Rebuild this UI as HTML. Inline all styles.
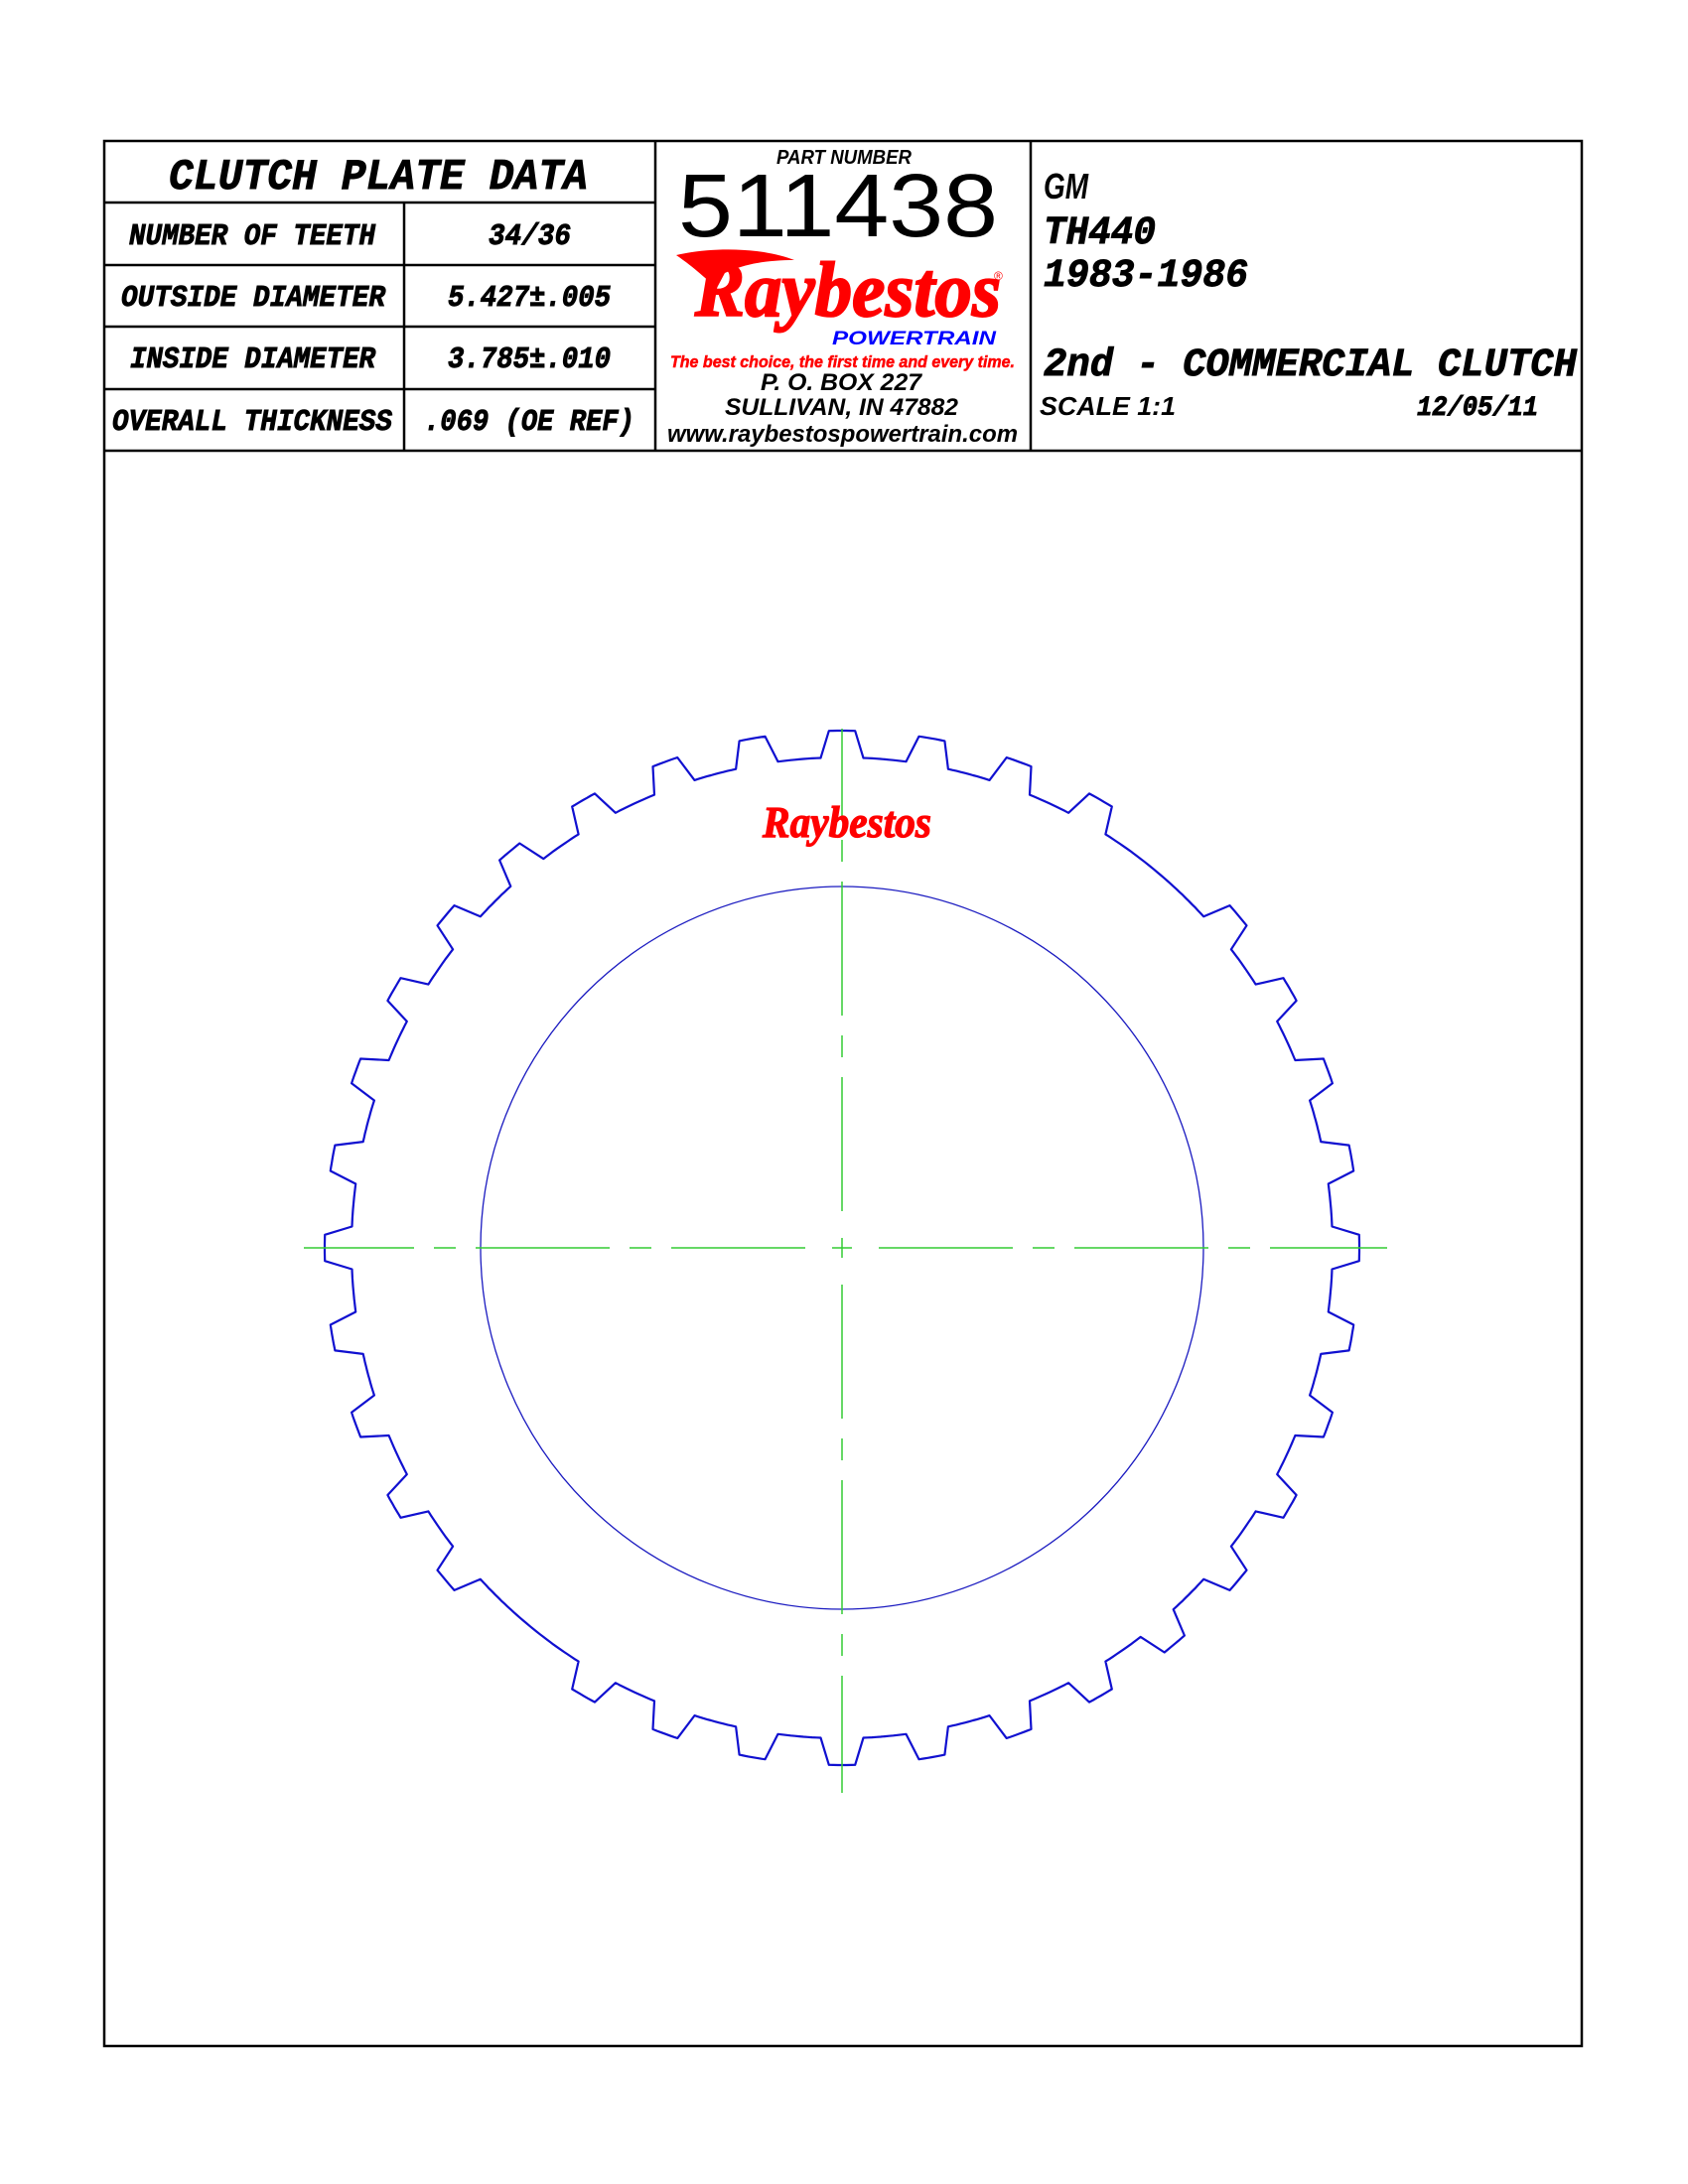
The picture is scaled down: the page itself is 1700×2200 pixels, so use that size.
<!DOCTYPE html>
<html><head><meta charset="utf-8"><style>
html,body{margin:0;padding:0;background:#fff}
svg{display:block}
.m{font-family:"Liberation Mono",monospace;font-weight:bold;font-style:italic;fill:#000;stroke:#000;stroke-width:0.9}
.s{font-family:"Liberation Sans",sans-serif;font-weight:bold;font-style:italic;fill:#000}
</style></head><body>
<svg id="sheet" width="1700" height="2200" viewBox="0 0 1700 2200" xmlns="http://www.w3.org/2000/svg">
<g stroke="#000" stroke-width="2.5" fill="none">
<rect x="105" y="142" width="1488" height="1919"/>
<line x1="105" y1="454" x2="1593" y2="454"/>
<line x1="660" y1="142" x2="660" y2="454"/>
<line x1="1038" y1="142" x2="1038" y2="454"/>
<line x1="105" y1="204" x2="660" y2="204"/>
<line x1="105" y1="267" x2="660" y2="267"/>
<line x1="105" y1="329" x2="660" y2="329"/>
<line x1="105" y1="392" x2="660" y2="392"/>
<line x1="407" y1="204" x2="407" y2="454"/>
</g>
<g>
<text class="m" x="170" y="190" font-size="44" textLength="422" lengthAdjust="spacingAndGlyphs">CLUTCH PLATE DATA</text>
<text class="m" x="130" y="246" font-size="31" textLength="248" lengthAdjust="spacingAndGlyphs">NUMBER OF TEETH</text>
<text class="m" x="122" y="308" font-size="31" textLength="266" lengthAdjust="spacingAndGlyphs">OUTSIDE DIAMETER</text>
<text class="m" x="131" y="370" font-size="31" textLength="247" lengthAdjust="spacingAndGlyphs">INSIDE DIAMETER</text>
<text class="m" x="113" y="433" font-size="31" textLength="282" lengthAdjust="spacingAndGlyphs">OVERALL THICKNESS</text>
<text class="m" x="492" y="246" font-size="31" textLength="83" lengthAdjust="spacingAndGlyphs">34/36</text>
<text class="m" x="451" y="308" font-size="31" textLength="164" lengthAdjust="spacingAndGlyphs">5.427±.005</text>
<text class="m" x="451" y="370" font-size="31" textLength="164" lengthAdjust="spacingAndGlyphs">3.785±.010</text>
<text class="m" x="427" y="433" font-size="31" textLength="212" lengthAdjust="spacingAndGlyphs">.069 (OE REF)</text>
</g>
<g>
<text class="s" x="782" y="165" font-size="20" textLength="136" lengthAdjust="spacingAndGlyphs">PART NUMBER</text>
<text x="683" y="238" font-family="Liberation Sans, sans-serif" font-size="90" textLength="322" lengthAdjust="spacingAndGlyphs">511438</text>
<path fill="#f00" d="M681,257 C720,248 770,250 800,262 C775,262 752,265 730,275 L722,290 C712,282 700,270 681,257 Z"/>
<text x="700" y="318" font-family="Liberation Serif, serif" font-weight="bold" font-style="italic" font-size="78" fill="#f00" stroke="#f00" stroke-width="2" textLength="308" lengthAdjust="spacingAndGlyphs">Raybestos</text>
<text x="1001" y="282" font-family="Liberation Sans, sans-serif" font-size="12" fill="#f00">®</text>
<text x="838" y="347" font-family="Liberation Sans, sans-serif" font-weight="bold" font-style="italic" font-size="19" fill="#00f" textLength="165" lengthAdjust="spacingAndGlyphs">POWERTRAIN</text>
<text x="675" y="370" font-family="Liberation Sans, sans-serif" font-weight="bold" font-style="italic" font-size="17" fill="#f00" stroke="#f00" stroke-width="0.5" textLength="347" lengthAdjust="spacingAndGlyphs">The best choice, the first time and every time.</text>
<text class="s" x="766" y="393" font-size="24" textLength="162" lengthAdjust="spacingAndGlyphs">P. O. BOX 227</text>
<text class="s" x="730" y="418" font-size="24" textLength="235" lengthAdjust="spacingAndGlyphs">SULLIVAN, IN 47882</text>
<text class="s" x="672" y="445" font-size="24" textLength="353" lengthAdjust="spacingAndGlyphs">www.raybestospowertrain.com</text>
</g>
<g>
<text class="s" x="1051" y="200" font-size="36" textLength="45" lengthAdjust="spacingAndGlyphs">GM</text>
<text class="m" x="1051" y="245" font-size="40" textLength="113" lengthAdjust="spacingAndGlyphs">TH440</text>
<text class="m" x="1051" y="288" font-size="40" textLength="206" lengthAdjust="spacingAndGlyphs">1983-1986</text>
<text class="m" x="1051" y="378" font-size="40" textLength="537" lengthAdjust="spacingAndGlyphs">2nd - COMMERCIAL CLUTCH</text>
<text class="s" x="1047" y="418" font-size="26" textLength="137" lengthAdjust="spacingAndGlyphs">SCALE 1:1</text>
<text class="m" x="1427" y="418" font-size="28" textLength="122" lengthAdjust="spacingAndGlyphs">12/05/11</text>
</g>
<g id="plate"></g>
<text x="768" y="843" font-family="Liberation Serif, serif" font-weight="bold" font-style="italic" font-size="44" fill="#f00" stroke="#f00" stroke-width="1.2" textLength="170" lengthAdjust="spacingAndGlyphs">Raybestos</text>
</svg>
<script>
const toothPositionsDeg = [0,10,20,30,40,60,70,80,90,100,110,120,130,140,150,160,170,180,190,200,210,220,240,250,260,270,280,290,300,310,320,330,340,350];
const tipRadius = 521;
const rootRadius = 494;
const innerRadius = 364;
const cx = 848, cy = 1257;
const tipHalf = 1.45, rootHalf = 2.5;
const NS = 'http://www.w3.org/2000/svg';
const g = document.getElementById('plate');
function pt(r, deg){const a=deg*Math.PI/180;return [cx+r*Math.cos(a), cy-r*Math.sin(a)];}
let pts=[];
const teeth=new Set(toothPositionsDeg);
for(let a=0;a<360;a+=10){
  if(teeth.has(a)){
    pts.push(pt(rootRadius,a-rootHalf));
    pts.push(pt(tipRadius,a-tipHalf));
    for(let t=-tipHalf;t<=tipHalf;t+=0.5)pts.push(pt(tipRadius,a+t));
    pts.push(pt(tipRadius,a+tipHalf));
    pts.push(pt(rootRadius,a+rootHalf));
    for(let t=a+rootHalf;t<a+10-rootHalf;t+=0.5)pts.push(pt(rootRadius,t));
  } else {
    for(let t=a-rootHalf;t<a+10-rootHalf;t+=0.5)pts.push(pt(rootRadius,t));
  }
}
const outer=document.createElementNS(NS,'path');


outer.setAttribute('d','M'+pts.map(p=>p[0].toFixed(1)+','+p[1].toFixed(1)).join(' L')+' Z');
outer.setAttribute('fill','none');outer.setAttribute('stroke','#1010d0');outer.setAttribute('stroke-width','2.2');outer.setAttribute('stroke-linejoin','round');
g.appendChild(outer);
const inner=document.createElementNS(NS,'circle');


inner.setAttribute('cx',cx);inner.setAttribute('cy',cy);inner.setAttribute('r',innerRadius);
inner.setAttribute('fill','none');inner.setAttribute('stroke','#1a1ac0');inner.setAttribute('stroke-width','1.3');
g.appendChild(inner);
function seg(x1,y1,x2,y2){
  const l=document.createElementNS(NS,'line');
  
  
  l.setAttribute('x1',x1);l.setAttribute('y1',y1);l.setAttribute('x2',x2);l.setAttribute('y2',y2);
  l.setAttribute('stroke','#33cc33');l.setAttribute('stroke-width','1.5');
  g.appendChild(l);
}
function axisLine(horizontal,extentNeg,extentPos){
  [[1,extentPos],[-1,extentNeg]].forEach(([s,ext])=>{
    let d=37;let long=true;
    while(d<ext){
      const len=long?135:22;const e=Math.min(d+len,ext);
      if(horizontal)seg(cx+s*d,cy,cx+s*e,cy);else seg(cx,cy+s*d,cx,cy+s*e);
      d=e+20;long=!long;
    }
  });
}
axisLine(true,cx-306,1397-cx);
axisLine(false,cy-734,1806-cy);
seg(cx-10,cy,cx+10,cy);seg(cx,cy-10,cx,cy+10);
</script>
</body></html>
